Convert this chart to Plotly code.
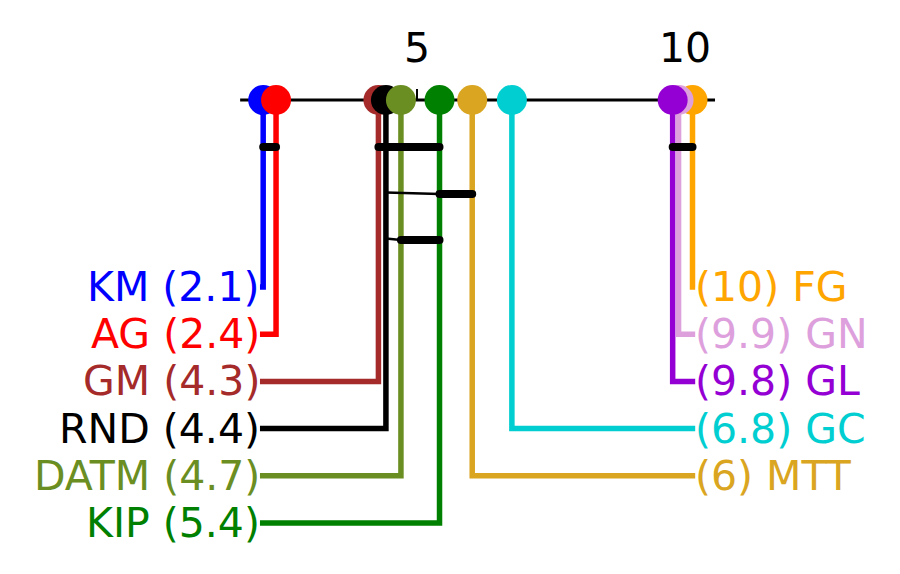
"""Critical difference diagram (mean ranks)"""

import plotly.graph_objects as go

# mean ranks
names = ["KM", "AG", "GM", "RND", "DATM", "KIP", "MTT", "GC", "GL", "GN", "FG"]
ranks = [2.13, 2.37, 4.28, 4.42, 4.70, 5.42, 6.03, 6.77, 9.77, 9.88, 10.14]
colors = ["blue", "red", "brown", "black", "olivedrab", "green",
          "goldenrod", "darkturquoise", "darkviolet", "plum", "orange"]

tick_vals = [5, 10]
axis_lo, axis_hi = 1.7, 10.56
left_x, right_x = 2.07, 10.19
n_left = 6

# cliques: (first, last, start of thick part, y)
cliques = [
    ("KM", "AG", "KM", 147),
    ("GM", "KIP", "GM", 147),
    ("RND", "MTT", "KIP", 194),
    ("RND", "KIP", "DATM", 240),
    ("GL", "FG", "GL", 147),
]

FONT = "DejaVu Sans"
FSIZE = 41
AXIS_Y = 100
ROW0, ROW_STEP = 287, 47.2

rank_of = dict(zip(names, ranks))
fig = go.Figure()

# axis line and ticks
fig.add_trace(go.Scatter(x=[axis_lo, axis_hi], y=[AXIS_Y, AXIS_Y], mode="lines",
                         line=dict(color="black", width=3), hoverinfo="skip"))
for t in tick_vals:
    fig.add_trace(go.Scatter(x=[t, t], y=[AXIS_Y, AXIS_Y - 11], mode="lines",
                             line=dict(color="black", width=2), hoverinfo="skip"))
    fig.add_annotation(x=t, y=48, text=str(t), showarrow=False,
                       font=dict(family=FONT, size=FSIZE, color="black"),
                       xanchor="center", yanchor="middle")

# which row / side each entry goes to
rows = {}
for i, n in enumerate(names[:n_left]):
    rows[n] = ("left", ROW0 + ROW_STEP * i)
right_names = names[n_left:][::-1]
for i, n in enumerate(right_names):
    rows[n] = ("right", ROW0 + ROW_STEP * i)

# elbow lines
for n, r, c in zip(names, ranks, colors):
    side, y = rows[n]
    end_x = left_x if side == "left" else right_x
    fig.add_trace(go.Scatter(x=[r, r, end_x], y=[AXIS_Y, y, y], mode="lines",
                             line=dict(color=c, width=5.5), hoverinfo="skip"))
    label = f"{n} ({r:.2g})" if side == "left" else f"({r:.2g}) {n}"
    fig.add_annotation(x=end_x, y=y, text=label, showarrow=False,
                       font=dict(family=FONT, size=FSIZE, color=c),
                       xanchor="right" if side == "left" else "left",
                       xshift=2 if side == "left" else -2, yanchor="middle")

# cliques
for a, b, thick, y in cliques:
    if thick != a:
        fig.add_trace(go.Scatter(x=[rank_of[a], rank_of[thick]], y=[y - 1.5, y],
                                 mode="lines", line=dict(color="black", width=2.5),
                                 hoverinfo="skip"))
    fig.add_trace(go.Scatter(x=[rank_of[thick], rank_of[b]], y=[y, y],
                             mode="lines+markers",
                             line=dict(color="black", width=8),
                             marker=dict(color="black", size=8),
                             hoverinfo="skip"))

# dots: left ones ascending, right ones descending (last drawn on top)
order = names[:n_left + 2] + names[n_left + 2:][::-1]
for n in order:
    c = colors[names.index(n)]
    fig.add_trace(go.Scatter(x=[rank_of[n]], y=[AXIS_Y], mode="markers",
                             marker=dict(color=c, size=30, line=dict(width=0)),
                             hoverinfo="skip"))

# page body has an 8px margin, so the figure starts at (8, 8)
fig.update_layout(
    width=884, height=558,
    margin=dict(l=0, r=0, t=0, b=0),
    showlegend=False,
    plot_bgcolor="white", paper_bgcolor="white",
    xaxis=dict(range=[-2.631, 13.862], visible=False),
    yaxis=dict(range=[566, 8], visible=False),
)

fig.write_html("out.html")
